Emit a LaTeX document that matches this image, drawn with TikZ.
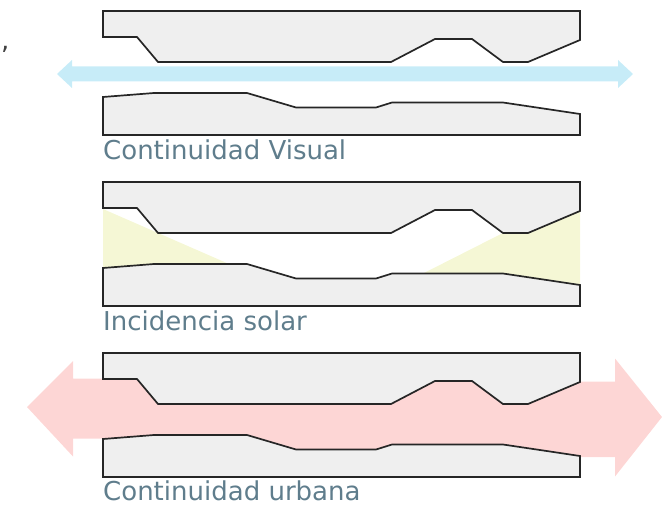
\documentclass[tikz,border=0pt]{standalone}
\usepackage{fontspec}
\setmainfont{DejaVu Sans}

\definecolor{blockgray}{RGB}{239,239,239}
\definecolor{edgegray}{RGB}{38,38,38}
\definecolor{skyblue}{RGB}{199,236,248}
\definecolor{sunyellow}{RGB}{245,247,213}
\definecolor{flowpink}{RGB}{253,214,213}
\definecolor{labelblue}{RGB}{95,125,140}

\begin{document}
\begin{tikzpicture}[x=1pt,y=-1pt,
	block/.style={fill=blockgray, draw=edgegray, line width=1.7pt},
	caption/.style={anchor=base west, inner sep=0pt, text=labelblue, font=\fontsize{26}{30}\selectfont}]

	\useasboundingbox (0,0) rectangle (662,508);

	% Cut-off mark
	\node [anchor=base west, inner sep=0pt, text=darkgray, font=\fontsize{26}{30}\selectfont] (comma) at (1,49.5) {,};

	% Visual arrow
	\fill [skyblue] (57,74) -- (72,60) -- (72,66.5) -- (618,66.5) -- (618,60) -- (633,74) -- (618,88) -- (618,81.5) -- (72,81.5) -- (72,88) -- cycle;

	% Sun
	\begin{scope}[shift={(0,171)}]
	\fill [sunyellow] (103,38) -- (229,93) -- (103,100) -- cycle;
	\fill [sunyellow] (423,102.5) -- (580,23) -- (580,118) -- cycle;
	\end{scope}

	% Urban arrow (middle part hidden under the blocks)
	\fill [flowpink] (27,407) -- (73,361) -- (73,378.5) -- (104,378.5) -- (104,370) -- (579,370) -- (579,381.5) -- (615,381.5) -- (615,358.5) -- (662,417) -- (615,476.5) -- (615,457) -- (579,457) -- (579,465) -- (104,465) -- (104,438.5) -- (73,438.5) -- (73,456.5) -- cycle;

	% Blocks
	\foreach \dy in {0,171,342}
	{
	\begin{scope}[shift={(0,\dy)}]
	\draw [block] (103,11) -- (580,11) -- (580,40) -- (528,62) -- (503,62) -- (472,39) -- (435,39) -- (391,62) -- (158,62) -- (137,37) -- (103,37) -- cycle;
	\draw [block] (103,97) -- (154,93) -- (247,93) -- (296,107.5) -- (376,107.5) -- (392,102.5) -- (503,102.5) -- (550,109.5) -- (580,114) -- (580,135) -- (103,135) -- cycle;
	\end{scope}
	}

	% Labels
	\node [caption] (visuallabel) at (103,159.5) {Continuidad Visual};
	\node [caption] (solarlabel) at (103,330) {Incidencia solar};
	\node [caption] (urbanlabel) at (103,500.5) {Continuidad urbana};

\end{tikzpicture}
\end{document}
